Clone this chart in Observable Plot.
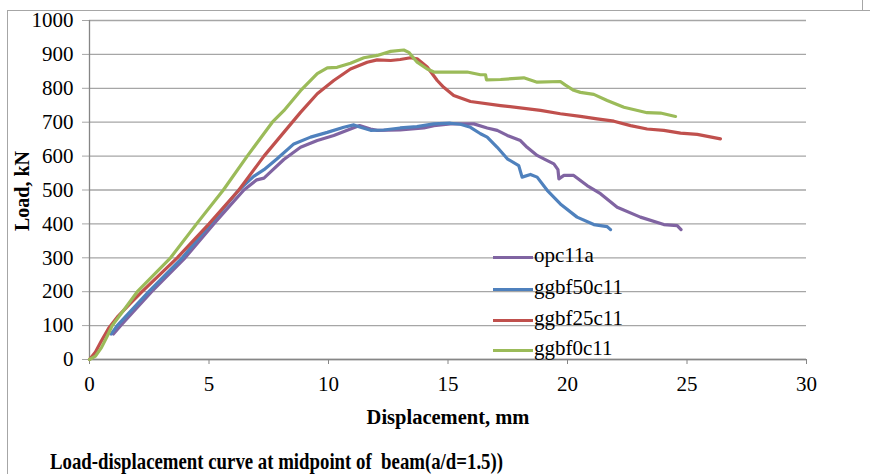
<!DOCTYPE html>
<html><head><meta charset="utf-8">
<script src="https://cdn.jsdelivr.net/npm/d3@7"></script>
<script src="https://cdn.jsdelivr.net/npm/@observablehq/plot@0.6"></script>
<style>
body{margin:0;background:#fff;}
#wrap{position:relative;width:870px;height:474px;overflow:hidden;font-family:"Liberation Serif","Times New Roman",serif;color:#000;}
#frame{position:absolute;left:7px;top:10px;width:900px;height:500px;border-left:1px solid #a6a6a6;border-top:1px solid #a6a6a6;}
#edge{position:absolute;left:862px;top:0;width:0;height:10px;border-left:1px solid #a6a6a6;}
#chart{position:absolute;left:0;top:0;}
#legend{position:absolute;left:0;top:0;}
.item{position:absolute;left:493px;height:20px;white-space:nowrap;}
.item .sw{position:absolute;left:0;top:8px;width:40px;height:3px;}
.item .lb{position:absolute;left:41px;top:-3px;font-size:21px;line-height:21px;}
#xlab{position:absolute;left:0;width:896px;top:405px;text-align:center;font-weight:bold;font-size:20.5px;line-height:24px;}
#ylab{position:absolute;left:22px;top:191px;font-weight:bold;font-size:20px;line-height:22px;transform:translate(-50%,-50%) rotate(-90deg);white-space:nowrap;}
#title{position:absolute;left:50px;top:448px;font-weight:bold;font-size:23.5px;line-height:26px;white-space:nowrap;transform:scaleX(0.8);transform-origin:0 50%;}
</style></head>
<body>
<div id="wrap">
  <div id="frame"></div>
  <div id="edge"></div>
  <div id="chart"></div>
  <div id="legend"></div>
  <div id="xlab">Displacement, mm</div>
  <div id="ylab">Load, kN</div>
  <div id="title">Load-displacement curve at midpoint of&nbsp; beam(a/d=1.5))</div>
</div>
<script>
const seriesNames = ["opc11a", "ggbf50c11", "ggbf25c11", "ggbf0c11"];
const seriesColors = ["#8064A2", "#4F81BD", "#C0504D", "#9BBB59"];
const xTicks = [0, 5, 10, 15, 20, 25, 30];
const yTicks = [0, 100, 200, 300, 400, 500, 600, 700, 800, 900, 1000];

const opc11aX = [1.0, 1.3, 2.6, 4.0, 5.2, 6.46, 7.0, 7.3, 7.6, 8.13, 8.83, 9.53, 10.22, 10.92, 11.3, 11.76, 12.04, 13.0, 13.99, 14.41, 15.1, 16.08, 16.64, 17.06, 17.48, 18.03, 18.31, 18.73, 19.01, 19.43, 19.6, 19.64, 19.85, 20.26, 20.82, 21.38, 22.08, 23.05, 24.03, 24.59, 24.75];
const opc11aY = [75, 100, 200, 300, 400, 500, 530, 535, 555, 590, 626, 646, 661, 680, 690, 680, 676, 677, 683, 690, 695, 695, 683, 676, 661, 646, 626, 602, 592, 577, 560, 533, 543, 543, 513, 489, 449, 420, 398, 395, 383];

const ggbf50X = [0.9, 1.16, 2.48, 3.88, 5.06, 6.25, 6.87, 7.3, 7.85, 8.55, 9.25, 9.95, 10.64, 11.06, 11.34, 11.76, 12.31, 13.0, 13.7, 14.4, 15.1, 15.52, 15.94, 16.36, 16.64, 17.06, 17.48, 17.96, 18.1, 18.45, 18.73, 19.15, 19.7, 20.4, 21.1, 21.66, 21.8];
const ggbf50Y = [75, 100, 200, 300, 400, 500, 540, 560, 592, 636, 656, 670, 685, 692, 685, 676, 677, 683, 687, 695, 697, 694, 685, 666, 656, 626, 592, 572, 538, 546, 538, 499, 459, 420, 398, 392, 383];

const ggbf25X = [0, 0.25, 0.5, 0.8, 1.2, 1.7, 2.2, 3.67, 5.0, 6.25, 7.3, 8.13, 8.83, 9.53, 10.22, 10.92, 11.62, 12.04, 12.6, 13.0, 13.43, 13.71, 14.13, 14.55, 14.82, 15.24, 15.94, 17.2, 18.87, 19.7, 20.54, 21.24, 21.94, 22.64, 23.33, 24.03, 24.73, 25.43, 26.4];
const ggbf25Y = [0, 22, 55, 92, 128, 165, 200, 300, 400, 500, 600, 670, 729, 784, 823, 857, 877, 884, 882, 885, 890, 887, 863, 823, 803, 779, 761, 749, 735, 725, 717, 710, 703, 690, 680, 676, 668, 664, 651];

const ggbf0X = [0, 0.25, 0.5, 0.75, 0.95, 1.5, 2.0, 3.39, 4.48, 5.6, 6.6, 7.65, 8.13, 8.83, 9.53, 9.95, 10.36, 10.92, 11.48, 12.04, 12.6, 13.15, 13.36, 13.71, 14.13, 14.41, 15.1, 15.8, 16.36, 16.57, 16.61, 17.2, 18.17, 18.73, 19.7, 19.9, 20.26, 20.54, 21.1, 21.66, 22.36, 23.33, 23.89, 24.52];
const ggbf0Y = [0, 10, 35, 70, 100, 152, 200, 300, 400, 500, 600, 700, 734, 793, 843, 860, 862, 874, 890, 897, 909, 913, 906, 877, 857, 848, 848, 848, 840, 840, 825, 826, 831, 818, 820, 810, 794, 788, 782, 764, 744, 728, 727, 717];

const xs = [opc11aX, ggbf50X, ggbf25X, ggbf0X];
const ys = [opc11aY, ggbf50Y, ggbf25Y, ggbf0Y];
const rows = seriesNames.flatMap((s, i) => xs[i].map((x, j) => ({series: s, x, y: ys[i][j]})));

const chart = Plot.plot({
  width: 870, height: 440,
  marginLeft: 89, marginRight: 64, marginTop: 20, marginBottom: 81,
  style: {fontFamily: "'Liberation Serif', 'Times New Roman', serif", fontSize: "21px", color: "#000", background: "transparent", overflow: "visible"},
  x: {domain: [0, 30]},
  y: {domain: [0, 1000]},
  color: {domain: seriesNames, range: seriesColors},
  marks: [
    Plot.gridY(yTicks, {stroke: "#a6a6a6", strokeOpacity: 1, strokeWidth: 1.3}),
    Plot.axisY(yTicks, {tickSize: 7, tickPadding: 9, stroke: "#a6a6a6", fontSize: 21, label: null, tickFormat: d => String(d)}),
    Plot.axisX(xTicks, {tickSize: 5, tickPadding: 12, stroke: "#868686", fontSize: 21, label: null, tickFormat: d => String(d)}),
    Plot.ruleX([0], {stroke: "#868686", strokeWidth: 1.3}),
    Plot.ruleY([0], {stroke: "#868686", strokeWidth: 1.5}),
    Plot.line(rows, {x: "x", y: "y", z: "series", stroke: "series", strokeWidth: 3.2, strokeLinejoin: "round", strokeLinecap: "round"})
  ]
});
document.getElementById("chart").appendChild(chart);

const legend = document.getElementById("legend");
const legendTops = [248, 280, 311, 341];
seriesNames.forEach((s, i) => {
  const it = document.createElement("div");
  it.className = "item";
  it.style.top = legendTops[i] + "px";
  it.innerHTML = `<div class="sw" style="background:${seriesColors[i]}"></div><div class="lb">${s}</div>`;
  legend.appendChild(it);
});
</script>
</body></html>
